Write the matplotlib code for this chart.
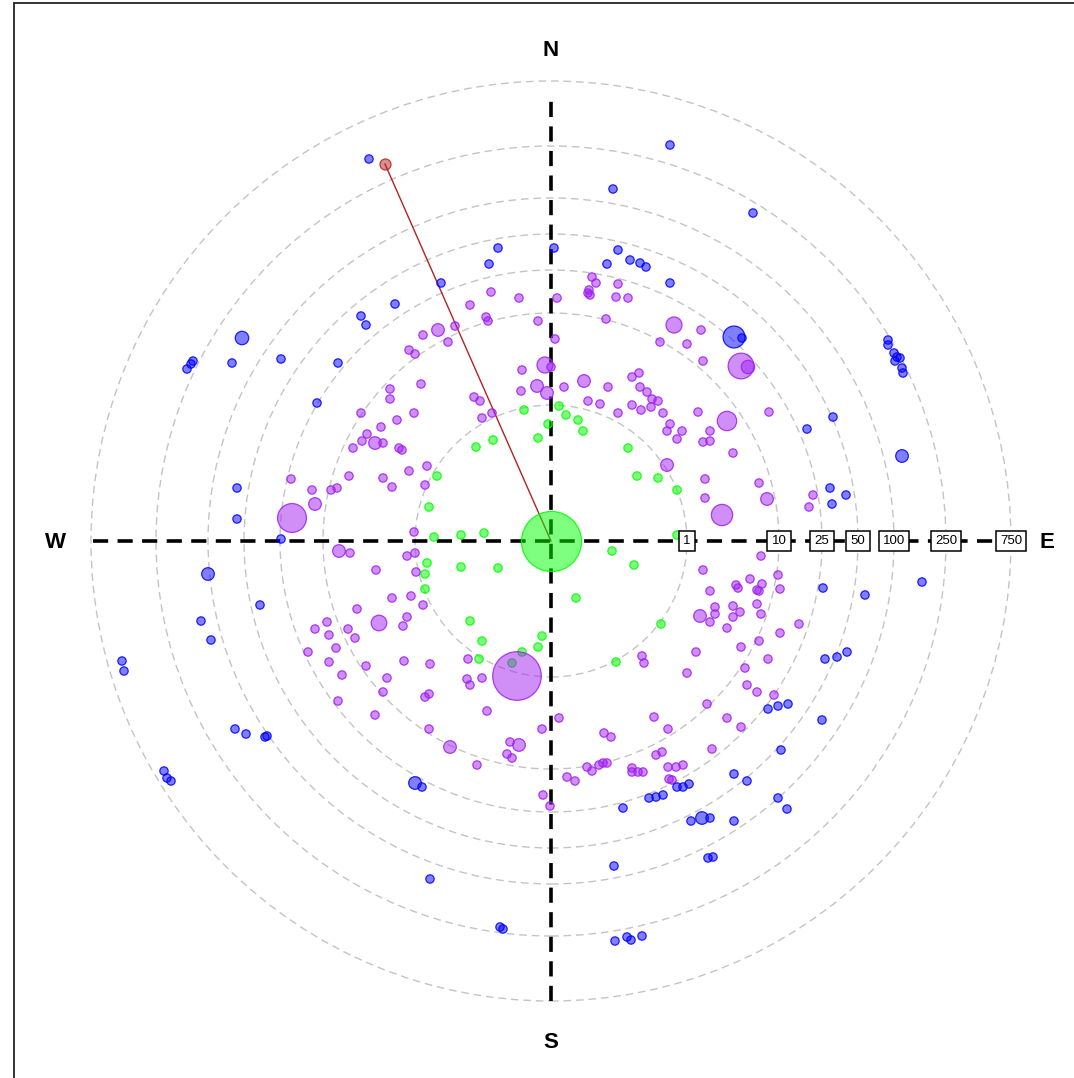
import numpy as np
import matplotlib
matplotlib.use("Agg")
import matplotlib.pyplot as plt
from matplotlib.lines import Line2D
from matplotlib.patches import Circle

# ---------------- data ----------------
# distance rings (labels on the east axis)
ring_values = [1, 10, 25, 50, 100, 250, 750]
compass_labels = ["N", "E", "S", "W"]

# points as east / north offsets from the origin (plot units)
green_e = [-27, 8, 15, 27, 32, -3, -13, -58, -75, 77, -114, 86, 107, 126, -122, -117,
           -90, -67, 126, 61, 83, -90, -53, -124, -126, -126, 25, -81, -69, -9, -13,
           -29, -39, -72, 110, 65]
green_n = [131, 135, 126, 121, 110, 117, 103, 101, 94, 93, 65, 65, 63, 51, 34, 4,
           6, 8, 6, -10, -24, -26, -27, -22, -33, -48, -57, -80, -100, -95, -106,
           -111, -122, -118, -83, -121]
green_bubble_e = [0]
green_bubble_n = [0]
green_bubble_w = [52]

purple_e = [-161, -161, -190, -170, -154, -184, -189, -168, -198, -152, -149, -202, -168,
            -159, -260, -239, -220, -214, -201,
            41, 45, 38, 37, 39, 67, 65, 77, -60, -32, 6, -81, -65, -63, -13, 55, -96,
            -128, -103, -142, -136, 150, 109, 136, 152, 4, 0, -29, -130, -30, 13, 57,
            81, 88, 89, 96, 101, 107, 100, 81, 90, 37, 49, 67, 112, 119, 116, 131, 126,
            147, 159, 152, 159, -77, -71, -59, -69, -137, -124, -142, -126, -137, 154,
            154, 218, 182, 208, 262, 258,
            210, 227, 229, 199, 211, 185, 187, 206, 208, 182, 189, 182, 176, 206, 210,
            248, 229, 208, 190, 217, 194, 196, 206, 223, 176, 190,
            -144, -136, -135, -140, -128, -144, -148, -147, -121, -83, -84, -81, -69,
            -126, -122, -64, -122, -74, -41, -44, -39, -9, 8, -8, -1, 16, 24, 36, 41,
            48, 52, 56, 53, 60, 81, 81, 87, 92, 103, 117, 105, 111, 117, 125, 132, 118,
            121, 91, 93, 145, 136, 152, 159, 164, 164, 159, 156, 161,
            -175, -159, -194, -224, -236, -222, -203, -196, -243, -215, -222, -209,
            -185, -164, -168, -213, -176]
purple_n = [152, 142, 128, 114, 121, 107, 100, 98, 93, 93, 91, 65, 63,
            54, 62, 51, 51, 53, -12,
            264, 258, 251, 248, 246, 257, 244, 243, 249, 243, 243, 236, 224, 220, 220,
            222, 215, 206, 199, 191, 187, 211, 199, 197, 180, 202, 174, 171, 157, 150,
            154, 154, 164, 168, 154, 149, 142, 140, 134, 136, 131, 140, 137, 128, 128,
            117, 110, 110, 102, 129, 110, 99, 100, 144, 140, 128, 123, 128, 75, 70, 56,
            9, 62, 43, 129, 88, 58, 46, 34,
            -15, -34, -48, -38, -43, -44, -47, -49, -50, -65, -71, -76, -87, -63, -73,
            -83, -92, -100, -106, -118, -127, -144, -151, -154, -177, -186,
            -15, -12, -31, -55, -64, -76, -85, -120, -123, -118, -138, -144, -137,
            -156, -153, -170, -188, -224, -201, -213, -217, -188, -177, -254, -265,
            -236, -240, -226, -230, -224, -222, -222, -192, -196, -227, -231, -231,
            -231, -176, -188, -214, -211, -226, -226, -224, -238, -239, -115, -122,
            -111, -132, -29, -50, -66, -73, -81, -163, -208,
            -29, -57, -68, -81, -88, -94, -88, -97, -111, -107, -121, -134, -125,
            -137, -151, -160, -174]
purple_bubble_e = [-176, -236, -259, -212, -113, 123, -6, -14, -4, 33, 116, 171, 190,
                   197, 176, 216, -101, -32, 149, -34, -172]
purple_bubble_n = [98, 37, 23, -10, 211, 216, 176, 155, 148, 160, 76, 26, 175, 174,
                   120, 42, -206, -204, -75, -135, -82]
purple_bubble_w = [2.3, 2.3, 12, 2.3, 2.3, 3.7, 3.7, 2.3, 2.3, 2.3, 2.3, 6.5, 9.5,
                   2.6, 5.4, 2.3, 2.3, 2.3, 2.3, 34, 3.5]

blue_e = [-182, -156, -190, -185, -358, -360, -364, -319, -270, -213, -234, -314, -314,
          -270, 119, 62, -53, 3, -62, 67, 56, 79, 89, 95, 119, -110, 202, 191, 337,
          337, 343, 346, 349, 344, 351, 352, 282, 256, 279, 295, 281, 272, 314, 371,
          274, 286, 296, 217, 227, 237, 271, 230, 183, 196, 227, 236, 183, -129, 72,
          98, 105, 112, 126, 132, 138, 140, 159, 157, 162, 63, -121, -51, -48, 64, 76,
          80, 91, -291, -350, -340, -429, -427, -316, -305, -286, -284, -387, -384,
          -380]
blue_n = [382, 237, 225, 216, 180, 177, 172, 178, 182, 178, 138, 53, 22,
          2, 396, 352, 293, 293, 277, 291, 277, 281, 278, 274, 258, 258, 328, 203, 201,
          196, 188, 184, 183, 180, 173, 168, 124, 112, 53, 46, 37, -47, -54, -41,
          -118, -116, -111, -168, -165, -163, -179, -209, -233, -240, -257, -268, -280,
          -246, -267, -257, -256, -254, -246, -246, -243, -280, -277, -317, -316, -325,
          -338, -386, -388, -400, -396, -399, -395, -64, -80, -99, -120, -130, -188,
          -193, -196, -195, -230, -237, -240]
blue_bubble_e = [-309, 183, 351, -136, 151, -343]
blue_bubble_n = [203, 204, 85, -242, -277, -33]
blue_bubble_w = [2.6, 6.9, 2.3, 2.3, 2.3, 2.3]

red_e = [-166]
red_n = [377]
red_w = [1.75]

# ---------------- layout / scales ----------------
W_PX, H_PX, DPI = 1074, 1078, 100
CX, CY = 551, 541                      # origin position in the canvas
RING_RADII = [136, 228, 271, 307, 343, 395, 460]   # radial scale for ring_values
BASE_S = 36.0

fig = plt.figure(figsize=(W_PX / DPI, H_PX / DPI), dpi=DPI)
fig.patch.set_facecolor("white")
ax = fig.add_axes([0, 0, 1, 1])
ax.set_xlim(-CX, W_PX - CX)
ax.set_ylim(CY - H_PX, CY)
ax.set_aspect("equal")
ax.axis("off")

# distance rings
for r in RING_RADII:
    ax.add_patch(Circle((0, 0), r, fill=False, ec="#c4c4c4", lw=1.0,
                        ls=(0, (5.5, 3.5)), zorder=1))

# compass axes
rmax = RING_RADII[-1]
axis_style = dict(color="black", lw=2.6, ls=(0, (4.2, 2.6)), zorder=2,
                  solid_capstyle="butt", dash_capstyle="butt")
ax.plot([-rmax + 2, rmax], [0, 0], **axis_style)
ax.plot([0, 0], [-rmax, rmax - 16], **axis_style)

# compass letters
font_main = ["Liberation Sans Narrow", "Liberation Sans", "DejaVu Sans"]
letter_pos = {"N": (0, 491), "E": (496, -2), "S": (0, -502), "W": (-496, -2)}
for lab in compass_labels:
    x, y = letter_pos[lab]
    ax.text(x, y, lab, ha="center", va="center", fontsize=16, fontweight="bold",
            family=font_main, zorder=6)

# red connector from the farthest flagged point to the origin
ax.plot([red_e[0], 0], [red_n[0], 0], color="#b22222", lw=1.0, zorder=3)


def draw_group(e, n, w, rgb, z=4):
    e = np.asarray(e, float)
    n = np.asarray(n, float)
    w = np.asarray(w, float)
    ax.scatter(e, n, s=BASE_S * w, facecolor=(*rgb, 0.5), edgecolor=(*rgb, 0.85),
               linewidths=0.9, zorder=z)


GREEN = (0.0, 1.0, 0.0)
PURPLE = (0.627, 0.125, 0.941)
BLUE = (0.0, 0.0, 1.0)
RED = (0.70, 0.13, 0.13)

draw_group(green_e, green_n, np.ones(len(green_e)), GREEN)
draw_group(green_bubble_e, green_bubble_n, green_bubble_w, GREEN)
draw_group(purple_e, purple_n, np.ones(len(purple_e)), PURPLE)
draw_group(purple_bubble_e, purple_bubble_n, purple_bubble_w, PURPLE)
draw_group(blue_e, blue_n, np.ones(len(blue_e)), BLUE)
draw_group(blue_bubble_e, blue_bubble_n, blue_bubble_w, BLUE)
draw_group(red_e, red_n, red_w, RED, z=5)

# ring value labels along the east axis
for v, r in zip(ring_values, RING_RADII):
    ax.text(r, 0, str(v), ha="center", va="center", fontsize=9.5, family=font_main,
            zorder=7,
            bbox=dict(boxstyle="square,pad=0.32", fc="white", ec="black", lw=1.1))

# panel frame (left and top edges)
fx0 = 14 / W_PX
fy1 = 1 - 2.5 / H_PX
fig.add_artist(Line2D([fx0, fx0], [0, fy1], color="#333333", lw=1.4,
                      transform=fig.transFigure))
fig.add_artist(Line2D([fx0, 1], [fy1, fy1], color="#333333", lw=1.4,
                      transform=fig.transFigure))

fig.savefig("out.png", dpi=DPI, facecolor="white")
